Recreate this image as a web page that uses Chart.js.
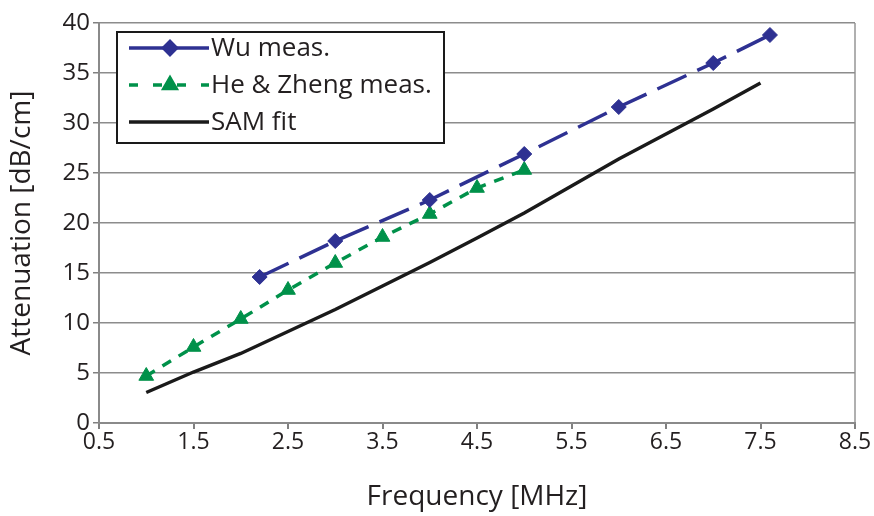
<!DOCTYPE html>
<html>
<head>
<meta charset="utf-8">
<script src="https://cdn.jsdelivr.net/npm/chart.js@4"></script>
<style>
  html, body { margin: 0; padding: 0; background: #fff; }
  #wrap { width: 874px; height: 516px; }
</style>
</head>
<body>
<div id="wrap"><canvas id="c" width="874" height="516"></canvas></div>
<script>
// ---- data ----
const wuFreq = [2.2, 3.0, 4.0, 5.0, 6.0, 7.0, 7.6];
const wuAtten = [14.6, 18.2, 22.3, 26.9, 31.6, 36.0, 38.8];

const heFreq = [1.0, 1.5, 2.0, 2.5, 3.0, 3.5, 4.0, 4.5, 5.0];
const heAtten = [4.7, 7.6, 10.4, 13.3, 16.0, 18.6, 20.9, 23.5, 25.3];

const samFreq = [1.0, 1.5, 2.0, 2.5, 3.0, 3.5, 4.0, 4.5, 5.0, 5.5, 6.0, 6.5, 7.0, 7.5];
const samAtten = [3.05, 5.1, 6.95, 9.15, 11.35, 13.7, 16.05, 18.5, 21.0, 23.7, 26.4, 28.9, 31.4, 34.0];

const xTicks = [0.5, 1.5, 2.5, 3.5, 4.5, 5.5, 6.5, 7.5, 8.5];
const yTicks = [0, 5, 10, 15, 20, 25, 30, 35, 40];

const seriesNames = ['Wu meas.', 'He & Zheng meas.', 'SAM fit'];
const xTitle = 'Frequency [MHz]';
const yTitle = 'Attenuation [dB/cm]';

const BLUE = '#2E3192';
const GREEN = '#00914A';
const BLACK = '#1a1a1a';
const FONT = '"Open Sans", "Noto Sans", sans-serif';
const TXT = '#231F20';

const zip = (xs, ys) => xs.map((x, i) => ({ x: x, y: ys[i] }));

const legendPlugin = {
  id: 'boxLegend',
  afterDatasetsDraw(chart) {
    const ctx = chart.ctx;
    const bx = 117, by = 32, bw = 327, bh = 111;
    ctx.save();
    ctx.fillStyle = '#fff';
    ctx.fillRect(bx, by, bw, bh);
    ctx.lineWidth = 2;
    ctx.strokeStyle = '#1a1a1a';
    ctx.strokeRect(bx, by, bw, bh);
    const rows = [48, 85, 122];
    chart.data.datasets.forEach((ds, i) => {
      const y = rows[i];
      ctx.save();
      ctx.strokeStyle = ds.borderColor;
      ctx.lineWidth = ds.borderWidth;
      ctx.setLineDash(ds.legendDash || []);
      ctx.beginPath();
      ctx.moveTo(129, y);
      ctx.lineTo(209, y);
      ctx.stroke();
      ctx.restore();
      if (ds.pointStyle && ds.pointRadius > 0) {
        ctx.save();
        ctx.fillStyle = ds.pointBackgroundColor;
        ctx.strokeStyle = ds.pointBackgroundColor;
        Chart.helpers.drawPoint(ctx, { pointStyle: ds.pointStyle, radius: ds.pointRadius, borderWidth: 1, rotation: 0 }, 170, y);
        ctx.restore();
      }
      ctx.fillStyle = TXT;
      ctx.font = '26px ' + FONT;
      ctx.textBaseline = 'middle';
      ctx.textAlign = 'left';
      ctx.fillText(ds.label, 211, y + 1);
    });
    ctx.restore();
  }
};

new Chart(document.getElementById('c'), {
  type: 'scatter',
  data: {
    datasets: [
      {
        label: seriesNames[0],
        data: zip(wuFreq, wuAtten),
        showLine: true,
        borderColor: BLUE,
        borderWidth: 3.5,
        borderDash: [32, 12],
        legendDash: [],
        pointStyle: 'rectRot',
        pointRadius: 7.5,
        pointBackgroundColor: BLUE,
        pointBorderColor: BLUE,
        pointBorderWidth: 1
      },
      {
        label: seriesNames[1],
        data: zip(heFreq, heAtten),
        showLine: true,
        borderColor: GREEN,
        borderWidth: 3.5,
        borderDash: [10, 9],
        legendDash: [9, 15],
        pointStyle: 'triangle',
        pointRadius: 8.5,
        pointBackgroundColor: GREEN,
        pointBorderColor: GREEN,
        pointBorderWidth: 1
      },
      {
        label: seriesNames[2],
        data: zip(samFreq, samAtten),
        showLine: true,
        borderColor: BLACK,
        borderWidth: 3.5,
        pointRadius: 0,
        pointStyle: false
      }
    ]
  },
  options: {
    responsive: false,
    animation: false,
    devicePixelRatio: 1,
    layout: { padding: { top: 23, right: 19, left: 0, bottom: 0 } },
    plugins: {
      legend: { display: false },
      tooltip: { enabled: false }
    },
    scales: {
      x: {
        type: 'linear',
        min: 0.5,
        max: 8.5,
        afterBuildTicks: s => { s.ticks = xTicks.map(v => ({ value: v })); },
        afterFit: s => { s.height = 93; },
        ticks: {
          color: TXT,
          font: { family: FONT, size: 23 },
          padding: 0,
          maxRotation: 0,
          autoSkip: false,
          callback: v => v.toFixed(1)
        },
        grid: {
          drawOnChartArea: true,
          color: c => (c.index === xTicks.length - 1 ? '#b0b0b0' : 'rgba(0,0,0,0)'),
          lineWidth: 2,
          tickColor: '#808080',
          tickLength: 6
        },
        border: { display: true, color: '#8a8a8a', width: 2 },
        title: {
          display: true,
          text: xTitle,
          color: TXT,
          font: { family: FONT, size: 28 },
          padding: { top: 0, bottom: 2 }
        }
      },
      y: {
        type: 'linear',
        min: 0,
        max: 40,
        afterBuildTicks: s => { s.ticks = yTicks.map(v => ({ value: v })); },
        afterFit: s => { s.width = 99; },
        ticks: {
          color: TXT,
          font: { family: FONT, size: 24 },
          padding: 3,
          autoSkip: false
        },
        grid: {
          color: '#8c8c8c',
          lineWidth: 1.5,
          tickColor: '#808080',
          tickLength: 6
        },
        border: { display: true, color: '#8a8a8a', width: 2 },
        title: {
          display: true,
          text: yTitle,
          color: TXT,
          font: { family: FONT, size: 28 },
          padding: { top: 5, bottom: 0 }
        }
      }
    }
  },
  plugins: [legendPlugin]
});
</script>
</body>
</html>
